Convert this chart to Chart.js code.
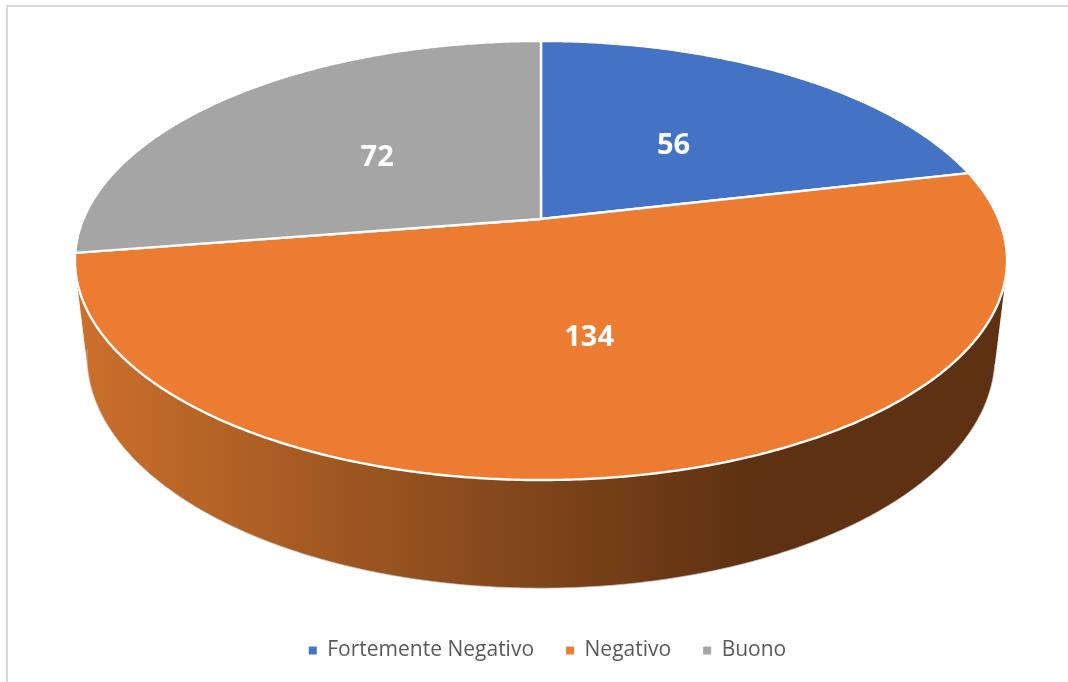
<!DOCTYPE html>
<html>
<head>
<meta charset="utf-8">
<script src="https://cdn.jsdelivr.net/npm/chart.js@4"></script>
<style>
	html, body { margin: 0; background: #fff; overflow: hidden; }
	#frame { position: absolute; left: 6px; top: 5px; width: 1062px; height: 677px; box-sizing: border-box; border-left: 2px solid #d9d9d9; border-top: 2px solid #d9d9d9; }
	canvas { position: absolute; left: 0; top: 0; display: block; }
</style>
</head>
<body>
<div id="frame"></div>
<canvas id="pie" width="1068" height="682"></canvas>
<script>
const categories = ["Fortemente Negativo", "Negativo", "Buono"];
const values = [56, 134, 72];
const colors = ["#4472C4", "#EB7C31", "#A5A5A5"];

// The top of the pie and the bottom edge of its wall, as tilted discs (pixels)
const topDisc = { x: 541, y: 219, width: 457.6, height: 211.7 };
const wallDisc = { x: 541, y: 312.2, width: 445.8, height: 223.8 };
const perspective = 0.189;

// Angle on the pie -> point on a tilted disc
function project(disc, angle, dist) {
	const t = angle + Math.PI / 2;
	const u = Math.sin(t) * dist;
	const v = Math.cos(t) * dist;
	const w = 1 + perspective * v;
	return {
		x: disc.x + disc.width * u / w,
		y: disc.y - disc.height * v / w
	};
}

function drawWall(ctx, arc) {
	const grad = ctx.createLinearGradient(85, 0, 750, 0);
	grad.addColorStop(0, "#CB6F2B");
	grad.addColorStop(0.5, "#92501F");
	grad.addColorStop(1, "#5E3112");
	const step = Math.PI / 360;
	ctx.beginPath();
	for (let a = arc.startAngle; a < arc.endAngle; a += step) {
		const b = Math.min(a + step, arc.endAngle);
		let quad = [project(topDisc, a, 1), project(topDisc, b, 1), project(wallDisc, b, 1), project(wallDisc, a, 1)];
		let area = 0;
		quad.forEach((p, i) => {
			const q = quad[(i + 1) % 4];
			area += p.x * q.y - q.x * p.y;
		});
		if (area < 0) quad.reverse();
		quad.forEach((p, i) => i ? ctx.lineTo(p.x, p.y) : ctx.moveTo(p.x, p.y));
		ctx.closePath();
	}
	ctx.fillStyle = grad;
	ctx.fill();
	// faint edge under the wall, only where it is the outline
	ctx.beginPath();
	for (let a = arc.startAngle + 0.45; a < arc.endAngle; a += step) {
		const p = project(wallDisc, a, 1);
		ctx.lineTo(p.x, p.y);
	}
	ctx.strokeStyle = "rgba(200,200,200,0.7)";
	ctx.lineWidth = 1;
	ctx.stroke();
}

function slicePath(ctx, arc) {
	const apex = project(topDisc, 0, 0);
	ctx.beginPath();
	ctx.moveTo(apex.x, apex.y);
	const step = Math.PI / 360;
	for (let a = arc.startAngle; a < arc.endAngle; a += step) {
		const p = project(topDisc, a, 1);
		ctx.lineTo(p.x, p.y);
	}
	const end = project(topDisc, arc.endAngle, 1);
	ctx.lineTo(end.x, end.y);
	ctx.closePath();
}

function drawSlice(ctx, arc, color) {
	slicePath(ctx, arc);
	ctx.fillStyle = color;
	ctx.fill();
	ctx.strokeStyle = "#fff";
	ctx.lineWidth = 2.4;
	ctx.lineJoin = "round";
	ctx.stroke();
}

const tiltedPie = {
	id: "tiltedPie",
	beforeDatasetDraw(chart) {
		const ctx = chart.ctx;
		const arcs = chart.getDatasetMeta(0).data;
		ctx.save();
		// the big slice is the only one with its wall facing us
		drawWall(ctx, arcs[1]);
		arcs.forEach((arc, i) => drawSlice(ctx, arc, colors[i]));
		// value labels
		ctx.fillStyle = "#fff";
		ctx.font = "bold 29px 'Open Sans'";
		ctx.textAlign = "center";
		ctx.textBaseline = "middle";
		arcs.forEach((arc, i) => {
			const p = project(topDisc, (arc.startAngle + arc.endAngle) / 2, 0.5);
			ctx.fillText(values[i], p.x, p.y + 4);
		});
		ctx.restore();
		return false;
	}
};

new Chart(document.getElementById("pie").getContext("2d"), {
	type: "pie",
	data: {
		labels: categories,
		datasets: [{
			data: values,
			backgroundColor: colors,
			borderWidth: 0
		}]
	},
	options: {
		responsive: false,
		animation: false,
		layout: { padding: { left: 27, bottom: 11 } },
		plugins: {
			tooltip: { enabled: false },
			legend: {
				position: "bottom",
				labels: {
					boxWidth: 8,
					boxHeight: 8,
					padding: 32,
					color: "#595959",
					font: { family: "'Open Sans'", size: 21 }
				}
			}
		}
	},
	plugins: [tiltedPie]
});
</script>
</body>
</html>
